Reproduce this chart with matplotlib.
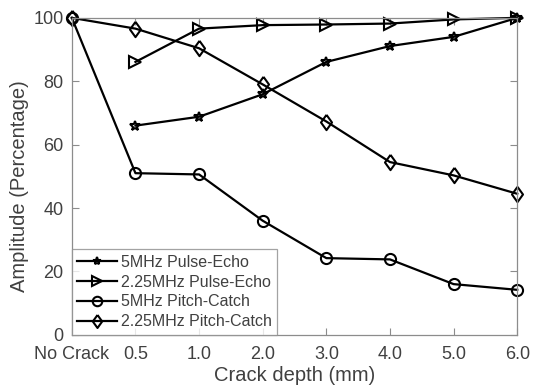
import numpy as np
import matplotlib
matplotlib.use('Agg')
import matplotlib.pyplot as plt

plt.rcParams['font.family'] = ['Liberation Sans', 'DejaVu Sans']

depth_labels = ['No Crack', '0.5', '1.0', '2.0', '3.0', '4.0', '5.0', '6.0']
pe_5mhz = [np.nan, 66.0, 68.8, 75.9, 86.1, 91.1, 94.0, 100.0]
pe_225mhz = [np.nan, 86.1, 96.6, 97.7, 97.9, 98.2, 99.5, 100.0]
pc_5mhz = [100.0, 51.0, 50.6, 36.0, 24.2, 23.8, 16.0, 14.2]
pc_225mhz = [100.0, 96.6, 90.4, 79.0, 67.3, 54.5, 50.3, 44.5]

x = np.arange(len(depth_labels))
grey = '#404040'
frame = '#8c8c8c'
# matlab style diamond, a bit wider than 'd'
diamond = [(0, 1), (0.72, 0), (0, -1), (-0.72, 0), (0, 1)]

fig = plt.figure(figsize=(5.36, 3.88), dpi=100)
ax = fig.add_axes([0.134, 0.137, 0.831, 0.817])

kw = dict(color='black', linewidth=1.6, markerfacecolor='none',
          markeredgecolor='black', markeredgewidth=1.5, clip_on=False)
ax.plot(x, pe_5mhz, marker='*', markersize=7, label='5MHz Pulse-Echo', **kw)
ax.plot(x, pe_225mhz, marker='>', markersize=8, label='2.25MHz Pulse-Echo', **kw)
ax.plot(x, pc_5mhz, marker='o', markersize=8, label='5MHz Pitch-Catch', **kw)
ax.plot(x, pc_225mhz, marker=diamond, markersize=11, label='2.25MHz Pitch-Catch', **kw)

ax.set_xlim(0, 7)
ax.set_ylim(0, 100)
ax.set_xticks(x)
ax.set_xticklabels(depth_labels)
ax.set_yticks([0, 20, 40, 60, 80, 100])
ax.tick_params(direction='in', length=5, width=0.8, color=frame,
               labelcolor=grey, labelsize=13, top=True, right=True)
ax.tick_params(axis='x', pad=8)
ax.tick_params(axis='y', pad=6)
for s in ax.spines.values():
    s.set_color(frame)
    s.set_linewidth(0.9)

ax.set_xlabel('Crack depth (mm)', fontsize=14.5, color=grey, labelpad=2)
ax.set_ylabel('Amplitude (Percentage)', fontsize=14.5, color=grey)
ax.yaxis.set_label_coords(-0.096, 0.47)

leg = ax.legend(loc='lower left', fontsize=11.5, frameon=True, fancybox=False,
                borderaxespad=0, borderpad=0.35, handlelength=2.5,
                handletextpad=0.2, labelspacing=0.3, labelcolor=grey,
                markerscale=0.85)
leg.get_frame().set_edgecolor(frame)
leg.get_frame().set_linewidth(0.9)

fig.savefig('out.png', dpi=100)
